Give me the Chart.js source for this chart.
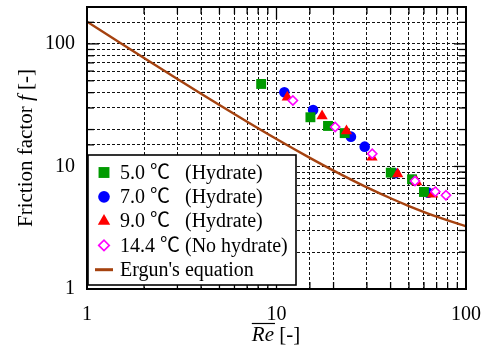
<!DOCTYPE html>
<html>
<head>
<meta charset="utf-8">
<script src="https://cdn.jsdelivr.net/npm/chart.js@4.4.1/dist/chart.umd.min.js"></script>
<style>
html, body { margin: 0; padding: 0; background: #fff; }
canvas { display: block; }
</style>
</head>
<body>
<canvas id="chart" width="485" height="345"></canvas>
<script>
// values
const re50 = [8.3, 15.1, 18.7, 22.9, 40.1, 51.9, 60.0];
const f50 = [47.1, 25.2, 21.4, 18.7, 8.9, 7.86, 6.19];

const re70 = [11.0, 15.6, 24.7, 29.2, 42.2, 52.7, 63.2];
const f70 = [40.3, 28.9, 17.5, 14.5, 8.8, 7.75, 6.11];

const re90 = [11.4, 17.4, 23.4, 31.9, 43.6, 54.9, 66.7];
const f90 = [36.7, 25.8, 19.5, 11.9, 8.69, 7.47, 5.93];

const re144 = [12.2, 20.4, 32.0, 53.8, 68.9, 78.4];
const f144 = [34.5, 21.0, 12.7, 7.61, 6.23, 5.82];

const ergunRe = [1, 1.5, 2, 3, 4, 5, 7, 10, 15, 20, 30, 40, 50, 70, 100];
const ergunF = [151.75, 101.75, 76.75, 51.75, 39.25, 31.75, 23.18, 16.75, 11.75, 9.25, 6.75, 5.5, 4.75, 3.89, 3.25];

const xTickLabels = ['1', '10', '100'];
const yTickLabels = ['1', '10', '100'];

const seriesLabels = ['5.0 \u2103   (Hydrate)', '7.0 \u2103   (Hydrate)', '9.0 \u2103   (Hydrate)', '14.4 \u2103 (No hydrate)', "Ergun's equation"];

const serif = '"Liberation Serif", "Noto Sans CJK JP", serif';

const toPoints = (xs, ys) => xs.map((v, i) => ({ x: v, y: ys[i] }));

const datasets = [
    {
        label: seriesLabels[0], data: toPoints(re50, f50), showLine: false,
        pointStyle: 'rect', pointRadius: 7, backgroundColor: '#009a00', borderColor: '#009a00', borderWidth: 0, order: 3,
    },
    {
        label: seriesLabels[1], data: toPoints(re70, f70), showLine: false,
        pointStyle: 'circle', pointRadius: 5.3, backgroundColor: '#0000ff', borderColor: '#0000ff', borderWidth: 0, order: 4,
    },
    {
        label: seriesLabels[2], data: toPoints(re90, f90), showLine: false,
        pointStyle: 'triangle', pointRadius: 6.5, backgroundColor: '#ff0000', borderColor: '#ff0000', borderWidth: 0, order: 2,
    },
    {
        label: seriesLabels[3], data: toPoints(re144, f144), showLine: false,
        pointStyle: 'rectRot', pointRadius: 4.6, backgroundColor: '#ffffff', borderColor: '#ff00ff', borderWidth: 1.6, order: 1,
    },
    {
        label: seriesLabels[4], data: toPoints(ergunRe, ergunF), showLine: true,
        pointRadius: 0, borderColor: '#a5420f', borderWidth: 2.4, cubicInterpolationMode: 'monotone', order: 5,
    },
];

const hLine = (ctx, x1, y1, x2, y2) => {
    ctx.beginPath();
    ctx.moveTo(x1, y1);
    ctx.lineTo(x2, y2);
    ctx.stroke();
};

const drawFrame = (chart) => {
    const { ctx, chartArea: a, scales: { x, y } } = chart;
    ctx.save();
    ctx.strokeStyle = '#000';
    ctx.setLineDash([]);
    ctx.lineWidth = 1.3;
    x.ticks.forEach((t) => {
        const px = x.getPixelForValue(t.value);
        const len = xTickLabels.includes(String(t.value)) ? 12 : 7;
        hLine(ctx, px, a.bottom, px, a.bottom - len);
        hLine(ctx, px, a.top, px, a.top + len);
    });
    y.ticks.forEach((t) => {
        const py = y.getPixelForValue(t.value);
        const len = yTickLabels.includes(String(t.value)) ? 12 : 7;
        hLine(ctx, a.left, py, a.left + len, py);
        hLine(ctx, a.right, py, a.right - len, py);
    });
    ctx.lineWidth = 2;
    ctx.strokeRect(a.left, a.top, a.right - a.left, a.bottom - a.top);
    ctx.restore();
};

const drawMarker = (ctx, ds, cx, cy) => {
    ctx.save();
    if (ds.showLine) {
        ctx.strokeStyle = ds.borderColor;
        ctx.lineWidth = 3;
        hLine(ctx, cx - 9, cy, cx + 9, cy);
    } else {
        ctx.fillStyle = ds.backgroundColor;
        ctx.strokeStyle = ds.borderColor;
        ctx.lineWidth = ds.borderWidth || 0;
        const scale = ds.pointStyle === 'rectRot' ? 1.15 : 1.1;
        Chart.helpers.drawPoint(ctx, {
            pointStyle: ds.pointStyle,
            radius: ds.pointRadius * scale,
            borderWidth: ds.borderWidth,
            rotation: 0,
        }, cx, cy);
    }
    ctx.restore();
};

const drawLegend = (chart) => {
    const { ctx, chartArea: a } = chart;
    const left = a.left + 1;
    const top = 155;
    const width = 208;
    const height = 130;
    ctx.save();
    ctx.fillStyle = '#fff';
    ctx.fillRect(left, top, width, height);
    ctx.strokeStyle = '#000';
    ctx.lineWidth = 1.6;
    ctx.strokeRect(left, top, width, height);
    ctx.font = '20px ' + serif;
    ctx.textBaseline = 'middle';
    chart.data.datasets.forEach((ds, i) => {
        const cy = top + 17.5 + i * 24.3;
        drawMarker(ctx, ds, left + 16, cy);
        ctx.fillStyle = '#000';
        ctx.fillText(ds.label, left + 32, cy + 1);
    });
    ctx.restore();
};

const drawTitles = (chart) => {
    const { ctx } = chart;
    ctx.save();
    ctx.fillStyle = '#000';
    ctx.textBaseline = 'alphabetic';

    // y axis title: Friction factor f [-]
    const plain = '21px ' + serif;
    const ital = 'italic 21px ' + serif;
    const parts = [['Friction factor ', plain], ['f', ital], [' [-]', plain]];
    let total = 0;
    parts.forEach(([t, f]) => { ctx.font = f; total += ctx.measureText(t).width; });
    ctx.translate(32, 148);
    ctx.rotate(-Math.PI / 2);
    let pos = -total / 2;
    parts.forEach(([t, f]) => {
        ctx.font = f;
        ctx.fillText(t, pos, 0);
        pos += ctx.measureText(t).width;
    });
    ctx.setTransform(1, 0, 0, 1, 0, 0);

    // x axis title: overline Re [-]
    ctx.font = ital;
    const wRe = ctx.measureText('Re').width;
    ctx.font = plain;
    const wRest = ctx.measureText(' [-]').width;
    let x0 = 276 - (wRe + wRest) / 2;
    const base = 341;
    ctx.font = ital;
    ctx.fillText('Re', x0, base);
    ctx.strokeStyle = '#000';
    ctx.lineWidth = 1.2;
    hLine(ctx, x0, 323.5, x0 + wRe + 1, 323.5);
    ctx.font = plain;
    ctx.fillText(' [-]', x0 + wRe, base);
    ctx.restore();
};

const decorations = {
    id: 'decorations',
    afterDraw(chart) {
        drawFrame(chart);
        drawLegend(chart);
        drawTitles(chart);
    },
};

const tickFont = { family: serif, size: 20 };

new Chart(document.getElementById('chart'), {
    type: 'scatter',
    data: { datasets },
    options: {
        responsive: false,
        animation: false,
        layout: { padding: { top: 7, right: 19, left: 0, bottom: 0 } },
        plugins: {
            legend: { display: false },
            tooltip: { enabled: false },
        },
        scales: {
            x: {
                type: 'logarithmic',
                min: 1,
                max: 100,
                afterFit: (scale) => {
                    scale.height = 56;
                    scale.paddingLeft = 0;
                    scale.paddingRight = 0;
                },
                grid: { color: '#111', lineWidth: 1, drawTicks: false },
                border: { display: false, dash: [3, 2] },
                ticks: {
                    autoSkip: false,
                    maxRotation: 0,
                    padding: 14,
                    color: '#000',
                    font: tickFont,
                    callback: (v) => (xTickLabels.includes(String(v)) ? String(v) : ''),
                },
            },
            y: {
                type: 'logarithmic',
                min: 1,
                max: 200,
                afterFit: (scale) => {
                    scale.width = 87;
                    scale.paddingTop = 0;
                    scale.paddingBottom = 0;
                },
                grid: { color: '#111', lineWidth: 1, drawTicks: false },
                border: { display: false, dash: [3, 2] },
                ticks: {
                    autoSkip: false,
                    padding: 12,
                    color: '#000',
                    font: tickFont,
                    callback: (v) => (yTickLabels.includes(String(v)) ? String(v) : ''),
                },
            },
        },
    },
    plugins: [decorations],
});
</script>
</body>
</html>
